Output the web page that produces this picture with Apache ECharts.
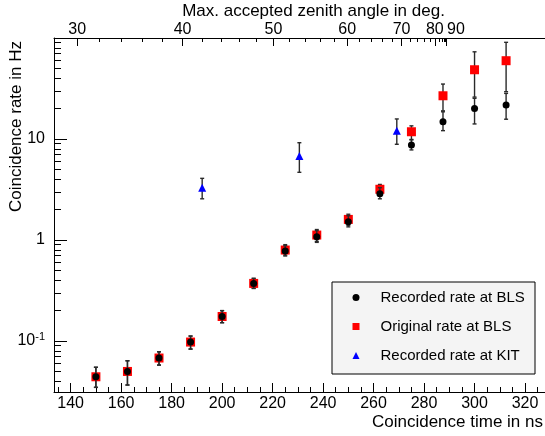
<!DOCTYPE html>
<html>
<head>
<meta charset="utf-8">
<script src="https://cdn.jsdelivr.net/npm/echarts@6/dist/echarts.min.js"></script>
<style>
  html, body { margin: 0; padding: 0; background: #fff; }
  #chart { width: 545px; height: 436px; }
</style>
</head>
<body>
<div id="chart"></div>
<script>
// Coincidence time windows (ns) used at the BLS setup
const timesBLS = [150, 162.5, 175, 187.5, 200, 212.5, 225, 237.5, 250, 262.5, 275, 287.5, 300, 312.5];

// Recorded coincidence rate at BLS (Hz) with lower / upper error limits
const recordedBLS     = [0.0443, 0.050, 0.0679, 0.0977, 0.175, 0.372, 0.778, 1.08, 1.52, 2.87, 8.73, 14.8, 20.1, 21.7];
const recordedBLSLow  = [0.0348, 0.0367, 0.0578, 0.0833, 0.152, 0.332, 0.695, 0.948, 1.35, 2.56, 7.8, 12.1, 14.1, 15.7];
const recordedBLSHigh = [0.055, 0.0638, 0.0783, 0.112, 0.20, 0.417, 0.879, 1.24, 1.74, 3.3, 9.8, 18.6, 25.3, 28.3];

// Original (uncorrected) coincidence rate at BLS (Hz)
const originalBLS     = [0.0443, 0.050, 0.0679, 0.0977, 0.175, 0.372, 0.796, 1.12, 1.60, 3.18, 11.8, 26.8, 48.5, 59.6];
const originalBLSLow  = [0.0348, 0.0367, 0.0578, 0.0833, 0.152, 0.332, 0.71, 0.97, 1.40, 2.75, 9.9, 19.0, 26.0, 29.4];
const originalBLSHigh = [0.055, 0.0638, 0.0783, 0.112, 0.20, 0.417, 0.90, 1.27, 1.80, 3.55, 13.5, 35.0, 73.0, 90.6];

// Recorded coincidence rate at KIT (Hz)
const timesKIT        = [192.1, 230.6, 269.2];
const recordedKIT     = [3.30, 6.79, 12.1];
const recordedKITLow  = [2.56, 4.68, 8.87];
const recordedKITHigh = [4.08, 9.19, 15.8];

// Axis ticks
const timeLabels      = [140, 160, 180, 200, 220, 240, 260, 280, 300, 320];
const timeMinorTicks  = [135, 145, 150, 155, 165, 170, 175, 185, 190, 195, 205, 210, 215, 225, 230, 235,
                         245, 250, 255, 265, 270, 275, 285, 290, 295, 305, 310, 315, 325];
const rateLabels      = [0.1, 1, 10];
const rateMinorTicks  = [0.04, 0.05, 0.06, 0.07, 0.08, 0.09, 0.2, 0.3, 0.4, 0.5, 0.6, 0.7, 0.8, 0.9,
                         2, 3, 4, 5, 6, 7, 8, 9, 20, 30, 40, 50, 60, 70, 80, 90];
const zenithLabels    = [30, 40, 50, 60, 70, 80, 90];
const zenithMinor     = [32, 34, 36, 38, 42, 44, 46, 48, 52, 54, 56, 58, 62, 64, 66, 68,
                         72, 74, 76, 78, 82, 84, 86, 88];

const X_MIN = 133.4, X_MAX = 329.1;
const Y_MIN = 0.0313, Y_MAX = 100;

// Coincidence window corresponding to a maximum accepted zenith angle
function zenithToTime(deg) {
  return 292.2 * Math.sin(deg * Math.PI / 180) - 3.5;
}
const zenithLabelTimes = zenithLabels.map(zenithToTime);
const zenithMinorTimes = zenithMinor.map(zenithToTime);

const FONT = '"Liberation Sans", Arial, Helvetica, sans-serif';
const ERR_COLOR = '#2a2a2a';

function errorBar(params, api) {
  const x = api.value(0);
  const lo = api.coord([x, api.value(1)]);
  const hi = api.coord([x, api.value(2)]);
  const cap = 2;
  const style = { stroke: ERR_COLOR, lineWidth: 1.4 };
  return {
    type: 'group',
    children: [
      { type: 'line', shape: { x1: lo[0], y1: lo[1], x2: hi[0], y2: hi[1] }, style },
      { type: 'line', shape: { x1: lo[0] - cap, y1: lo[1], x2: lo[0] + cap, y2: lo[1] }, style },
      { type: 'line', shape: { x1: hi[0] - cap, y1: hi[1], x2: hi[0] + cap, y2: hi[1] }, style }
    ]
  };
}

const zip = (xs, ys) => xs.map((x, i) => [x, ys[i]]);
const zip3 = (xs, a, b) => xs.map((x, i) => [x, a[i], b[i]]);

const hiddenAxisBase = {
  axisLine: { show: false },
  axisLabel: { show: false },
  splitLine: { show: false }
};

const chart = echarts.init(document.getElementById('chart'), null, { renderer: 'canvas' });

chart.setOption({
  animation: false,
  backgroundColor: '#ffffff',
  textStyle: { fontFamily: FONT, color: '#000' },
  grid: {
    left: 54, top: 38, right: -3, bottom: 44,
    containLabel: false,
    outerBoundsMode: 'none'
  },
  xAxis: [
    {
      type: 'value', position: 'bottom', min: X_MIN, max: X_MAX,
      axisLine: { show: true, lineStyle: { color: '#000', width: 1 } },
      axisTick: { show: true, inside: true, length: 9, customValues: timeLabels, lineStyle: { color: '#000' } },
      axisLabel: { show: true, customValues: timeLabels, margin: 4, fontSize: 16, color: '#000', fontFamily: FONT },
      splitLine: { show: false },
      name: 'Coincidence time in ns',
      nameLocation: 'end',
      nameGap: -5,
      nameMoveOverlap: false,
      nameTextStyle: { fontSize: 17, align: 'right', verticalAlign: 'top', padding: [22, 0, 0, 0], color: '#000', fontFamily: FONT }
    },
    Object.assign({
      type: 'value', position: 'bottom', min: X_MIN, max: X_MAX,
      axisTick: { show: true, inside: true, length: 5, customValues: timeMinorTicks, lineStyle: { color: '#000' } }
    }, hiddenAxisBase),
    {
      type: 'value', position: 'top', min: X_MIN, max: X_MAX,
      axisLine: { show: true, lineStyle: { color: '#000', width: 1 } },
      axisTick: { show: true, inside: true, length: 8, customValues: zenithLabelTimes, lineStyle: { color: '#000' } },
      axisLabel: {
        show: true, customValues: zenithLabelTimes, margin: 0, fontSize: 16, color: '#000', fontFamily: FONT,
        formatter: function (v) {
          let best = 0;
          zenithLabelTimes.forEach((t, i) => { if (Math.abs(t - v) < Math.abs(zenithLabelTimes[best] - v)) best = i; });
          const deg = zenithLabels[best];
          return deg === 90 ? '{shift|' + deg + '}' : String(deg);
        },
        rich: { shift: { fontSize: 16, fontFamily: FONT, color: '#000', padding: [0, 0, 0, 20] } }
      },
      splitLine: { show: false },
      name: 'Max. accepted zenith angle in deg.',
      nameLocation: 'middle',
      nameGap: 27,
      nameMoveOverlap: false,
      nameTextStyle: { fontSize: 17, verticalAlign: 'middle', align: 'center', padding: [0, 0, 0, 25], color: '#000', fontFamily: FONT }
    },
    Object.assign({
      type: 'value', position: 'top', min: X_MIN, max: X_MAX,
      axisTick: { show: true, inside: true, length: 4, customValues: zenithMinorTimes, lineStyle: { color: '#000' } }
    }, hiddenAxisBase)
  ],
  yAxis: [
    {
      type: 'log', logBase: 10, position: 'left', min: Y_MIN, max: Y_MAX,
      axisLine: { show: true, lineStyle: { color: '#000', width: 1 } },
      axisTick: { show: true, inside: true, length: 13, customValues: rateLabels, lineStyle: { color: '#000' } },
      axisLabel: {
        show: true, customValues: rateLabels, margin: 9, fontSize: 16, color: '#000', fontFamily: FONT,
        formatter: function (v) {
          if (Math.abs(v - 0.1) < 1e-6) return '{b|10}{s|-1}';
          return String(Math.round(v));
        },
        rich: {
          b: { fontSize: 16, fontFamily: FONT, color: '#000' },
          s: { fontSize: 11, fontFamily: FONT, color: '#000', padding: [0, 0, 9, 0] }
        }
      },
      splitLine: { show: false },
      name: 'Coincidence rate in Hz',
      nameLocation: 'end',
      nameRotate: 90,
      nameGap: -3,
      nameMoveOverlap: false,
      nameTextStyle: { fontSize: 17, align: 'right', verticalAlign: 'bottom', padding: [0, 0, 29, 0], color: '#000', fontFamily: FONT }
    },
    Object.assign({
      type: 'log', logBase: 10, position: 'left', min: Y_MIN, max: Y_MAX,
      axisTick: { show: true, inside: true, length: 7, customValues: rateMinorTicks, lineStyle: { color: '#000' } }
    }, hiddenAxisBase)
  ],
  legend: {
    orient: 'vertical',
    left: 352.5, top: 290,
    padding: 0,
    itemWidth: 7, itemHeight: 7,
    itemGap: 14,
    textStyle: { fontSize: 15, color: '#000', fontFamily: FONT, padding: [0, 0, 0, 16] },
    data: ['Recorded rate at BLS', 'Original rate at BLS', 'Recorded rate at KIT']
  },
  graphic: [{
    type: 'rect', z: 1,
    shape: { x: 332, y: 282, width: 203, height: 92 },
    style: { fill: '#f4f4f4', stroke: '#000', lineWidth: 1 }
  }],
  series: [
    {
      type: 'custom', name: 'err-original', xAxisIndex: 0, yAxisIndex: 0, z: 2,
      renderItem: errorBar, encode: { x: 0, y: [1, 2] },
      data: zip3(timesBLS, originalBLSLow, originalBLSHigh)
    },
    {
      type: 'scatter', name: 'Original rate at BLS', xAxisIndex: 0, yAxisIndex: 0, z: 3,
      symbol: 'rect', symbolSize: 9,
      itemStyle: { color: '#ff0000', opacity: 1 },
      data: zip(timesBLS, originalBLS)
    },
    {
      type: 'custom', name: 'err-recorded', xAxisIndex: 0, yAxisIndex: 0, z: 4,
      renderItem: errorBar, encode: { x: 0, y: [1, 2] },
      data: zip3(timesBLS, recordedBLSLow, recordedBLSHigh)
    },
    {
      type: 'scatter', name: 'Recorded rate at BLS', xAxisIndex: 0, yAxisIndex: 0, z: 5,
      symbol: 'circle', symbolSize: 7,
      itemStyle: { color: '#000000', opacity: 1 },
      data: zip(timesBLS, recordedBLS)
    },
    {
      type: 'custom', name: 'err-kit', xAxisIndex: 0, yAxisIndex: 0, z: 4,
      renderItem: errorBar, encode: { x: 0, y: [1, 2] },
      data: zip3(timesKIT, recordedKITLow, recordedKITHigh)
    },
    {
      type: 'scatter', name: 'Recorded rate at KIT', xAxisIndex: 0, yAxisIndex: 0, z: 5,
      symbol: 'triangle', symbolSize: 8,
      itemStyle: { color: '#0000ff', opacity: 1 },
      data: zip(timesKIT, recordedKIT)
    }
  ]
});
</script>
</body>
</html>
